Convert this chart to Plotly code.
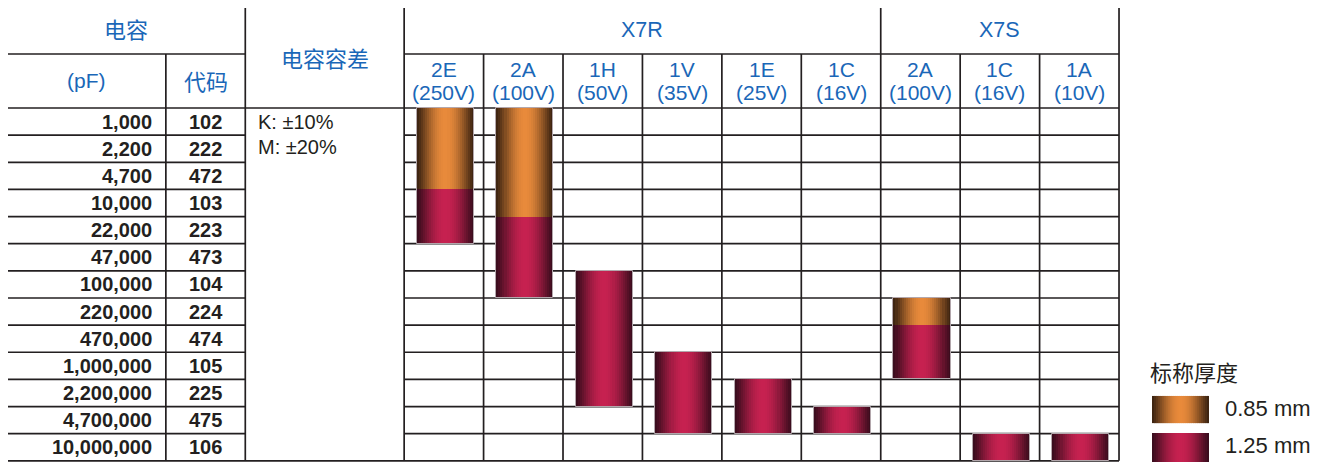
import numpy as np
import plotly.graph_objects as go

# ---------------- data ----------------
capacitance_pf = ["1,000", "2,200", "4,700", "10,000", "22,000", "47,000", "100,000",
                  "220,000", "470,000", "1,000,000", "2,200,000", "4,700,000", "10,000,000"]
capacitance_code = ["102", "222", "472", "103", "223", "473", "104",
                    "224", "474", "105", "225", "475", "106"]
tolerances = ["K: ±10%", "M: ±20%"]
dielectric_names = ["X7R", "X7S"]
dielectric_span = [6, 3]
voltage_code = ["2E", "2A", "1H", "1V", "1E", "1C", "2A", "1C", "1A"]
voltage_rating = ["(250V)", "(100V)", "(50V)", "(35V)", "(25V)", "(16V)", "(100V)", "(16V)", "(10V)"]

# thickness segments: voltage column, first capacitance, last capacitance, thickness (mm)
seg_column = [0, 0, 1, 1, 2, 3, 4, 5, 6, 6, 7, 8]
seg_first = ["1,000", "10,000", "1,000", "22,000", "100,000", "1,000,000", "2,200,000",
             "4,700,000", "220,000", "470,000", "10,000,000", "10,000,000"]
seg_last = ["4,700", "22,000", "10,000", "100,000", "2,200,000", "4,700,000", "4,700,000",
            "4,700,000", "220,000", "1,000,000", "10,000,000", "10,000,000"]
seg_thickness = [0.85, 1.25, 0.85, 1.25, 1.25, 1.25, 1.25, 1.25, 0.85, 1.25, 1.25, 1.25]

thickness_values = [0.85, 1.25]
thickness_labels = ["0.85 mm", "1.25 mm"]
legend_title = "标称厚度"
header_cap = "电容"
header_pf = "(pF)"
header_code = "代码"
header_tol = "电容容差"

# ---------------- styles ----------------
BLUE = "#1a67b8"
DARK = "#231f20"
LINE = "#231f20"
FONT = "Liberation Sans, Arial, Noto Sans CJK SC, sans-serif"
GRAD = {0.85: ((0x3a, 0x22, 0x10), (0xe8, 0x8a, 0x3b)),
        1.25: ((0x38, 0x0c, 0x1c), (0xc6, 0x21, 0x50))}
N_STRIPS = 28
BAR_W = 0.72
SHIFT = 0.02


def grad_color(th, t):
    d, b = GRAD[th]
    f = np.sin(np.pi * t) ** 1.2
    c = [int(round(d[i] + (b[i] - d[i]) * f)) for i in range(3)]
    return "rgb(%d,%d,%d)" % tuple(c)


row_of = {c: i for i, c in enumerate(capacitance_pf)}
seg_base = [row_of[a] - 0.5 for a in seg_first]
seg_len = [row_of[b] - row_of[a] + 1 for a, b in zip(seg_first, seg_last)]

fig = go.Figure()

# gradient strips (cylinder look)
step = BAR_W / N_STRIPS
for k in range(N_STRIPS):
    t = (k + 0.5) / N_STRIPS
    left = -BAR_W / 2 + k * step + SHIFT
    w = min(step * 1.8, BAR_W - k * step)
    fig.add_trace(go.Bar(
        x=seg_column, y=seg_len, base=seg_base,
        width=[w] * len(seg_column), offset=[left] * len(seg_column),
        marker=dict(color=[grad_color(th, t) for th in seg_thickness], line=dict(width=0)),
        showlegend=False, hoverinfo="skip"))

# outline of each full bar
cols = sorted(set(seg_column))
ob, ol = [], []
for c in cols:
    idx = [i for i, s in enumerate(seg_column) if s == c]
    lo = min(seg_base[i] for i in idx)
    hi = max(seg_base[i] + seg_len[i] for i in idx)
    ob.append(lo)
    ol.append(hi - lo)
fig.add_trace(go.Bar(
    x=cols, y=ol, base=ob, width=[BAR_W] * len(cols), offset=[-BAR_W / 2 + SHIFT] * len(cols),
    marker=dict(color="rgba(0,0,0,0)", line=dict(color="#b3a7ac", width=1)),
    showlegend=False, hoverinfo="skip"))

# ---------------- table grid ----------------
nrows = len(capacitance_pf)
ncols = len(voltage_code)
X_L, X_PF, X_CODE, X_TOL = -5.5, -3.5, -2.5, -0.5
X_R = ncols - 0.5
Y_TOP, Y_MID, Y_HDR = -4.284, -2.49, -0.5
Y_BOT = nrows - 0.5

shapes = []


def hline(y, x0, x1):
    shapes.append(dict(type="line", xref="x", yref="y", x0=x0, x1=x1, y0=y, y1=y,
                       line=dict(color=LINE, width=1.7), layer="below"))


def vline(x, y0, y1):
    shapes.append(dict(type="line", xref="x", yref="y", x0=x, x1=x, y0=y0, y1=y1,
                       line=dict(color=LINE, width=1.7), layer="below"))


hline(Y_TOP, X_L, X_R)
hline(Y_MID, X_L, X_CODE)
hline(Y_MID, X_TOL, X_R)
hline(Y_HDR, X_L, X_R)
for i in range(nrows):
    y = i + 0.5
    if i == nrows - 1:
        hline(y, X_L, X_R)
    else:
        hline(y, X_L, X_CODE)
        hline(y, X_TOL, X_R)
vline(X_L, Y_TOP, Y_BOT)
vline(X_R, Y_TOP, Y_BOT)
vline(X_PF, Y_MID, Y_BOT)
vline(X_CODE, Y_TOP, Y_BOT)
vline(X_TOL, Y_TOP, Y_BOT)
group_edges = np.cumsum(dielectric_span)[:-1] - 0.5
for j in range(ncols - 1):
    xe = j + 0.5
    if any(abs(xe - g) < 1e-9 for g in group_edges):
        vline(xe, Y_TOP, Y_BOT)
    else:
        vline(xe, Y_MID, Y_BOT)

# legend swatches (gradient)
LEG_X0, LEG_X1 = 8.915, 9.633
LEG_Y = [(10.11, 11.11), (11.475, 12.55)]
for th, (y0, y1) in zip(thickness_values, LEG_Y):
    lstep = (LEG_X1 - LEG_X0) / N_STRIPS
    for k in range(N_STRIPS):
        t = (k + 0.5) / N_STRIPS
        x0 = LEG_X0 + k * lstep
        x1 = min(x0 + lstep * 1.8, LEG_X1)
        shapes.append(dict(type="rect", xref="x", yref="y", x0=x0, x1=x1, y0=y0, y1=y1,
                           fillcolor=grad_color(th, t), line=dict(width=0), layer="above"))

# ---------------- texts ----------------
ann = []


def text(x, y, s, size, color, xanchor="center", weight="normal"):
    ann.append(dict(x=x, y=y, xref="x", yref="y", text=s, showarrow=False,
                    xanchor=xanchor, yanchor="middle",
                    font=dict(family=FONT, size=size, color=color, weight=weight)))


text((X_L + X_CODE) / 2, -3.37, header_cap, 22, BLUE)
text((X_L + X_PF) / 2, -1.52, header_pf, 21, BLUE)
text((X_PF + X_CODE) / 2, -1.45, header_code, 22, BLUE)
text((X_CODE + X_TOL) / 2, -2.30, header_tol, 22, BLUE)
start = -0.5
for name, span in zip(dielectric_names, dielectric_span):
    text(start + span / 2, -3.37, name, 21.5, BLUE)
    start += span
for j in range(ncols):
    text(j, -1.93, voltage_code[j], 21, BLUE)
    text(j, -1.06, voltage_rating[j], 21, BLUE)
for i in range(nrows):
    text(-3.65, i, capacitance_pf[i], 20, DARK, xanchor="right", weight="bold")
    text((X_PF + X_CODE) / 2, i, capacitance_code[i], 20, DARK, weight="bold")
for i, s in enumerate(tolerances):
    text(-2.37, i - 0.05 * i, s, 20, DARK, xanchor="left")
text(8.87, 9.30, legend_title, 22, DARK, xanchor="left")
text(9.81, 10.57, thickness_labels[0], 22, DARK, xanchor="left")
text(9.81, 11.93, thickness_labels[1], 22, DARK, xanchor="left")

# the page body adds an 8px margin, so the ranges are chosen to map
# the table onto the same page pixels as the reference
fig.update_layout(
    width=1314, height=462, autosize=False,
    margin=dict(l=0, r=0, t=0, b=0),
    paper_bgcolor="white", plot_bgcolor="white",
    barmode="overlay", bargap=0,
    showlegend=False,
    shapes=shapes, annotations=ann,
    xaxis=dict(range=[-5.4874, 11.0555], visible=False, fixedrange=True),
    yaxis=dict(range=[12.838, -4.1846], visible=False, fixedrange=True),
)

fig.write_html("out.html", config={"displayModeBar": False})
